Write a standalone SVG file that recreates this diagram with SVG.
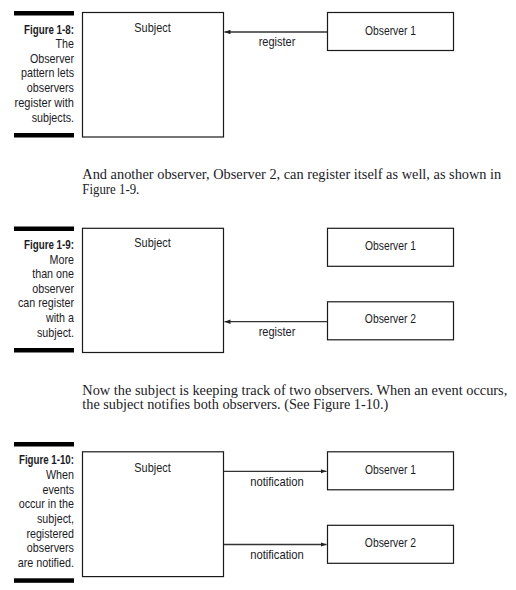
<svg xmlns="http://www.w3.org/2000/svg" width="516" height="590" viewBox="0 0 516 590">
<defs>
<style>
.bg{fill:#ffffff}
.bar{fill:#000000}
.box{fill:#ffffff;stroke:#1a1a1a;stroke-width:1.2}
.lbl{font-family:"Liberation Sans",Arial,sans-serif;font-size:13px;fill:#1b1b26;text-anchor:middle}
.cap{font-family:"Liberation Sans",Arial,sans-serif;font-size:13px;fill:#1b1b26;text-anchor:end}
.capb{font-weight:bold}
.para{font-family:"Liberation Serif","DejaVu Serif",serif;font-size:14px;fill:#1b1b26}
.conn{stroke:#333333;stroke-width:1.3;fill:none;marker-end:url(#ah)}
</style>
<marker id="ah" viewBox="0 0 8 6" refX="8" refY="3" markerWidth="6" markerHeight="4.5" markerUnits="userSpaceOnUse" orient="auto">
<path d="M0,0 L8,3 L0,6 z" fill="#222222"/>
</marker>
</defs>
<rect class="bg" x="0" y="0" width="516" height="590"/>

<!-- Figure 1-8 -->
<g id="fig1-8-caption">
<rect class="bar" x="14" y="11" width="60" height="4.5"/>
<rect class="bar" x="14" y="133" width="60" height="4.5"/>
<text class="cap capb" x="74" y="33.5" textLength="50" lengthAdjust="spacingAndGlyphs">Figure 1-8:</text>
<text class="cap" x="74" y="48" textLength="18.4" lengthAdjust="spacingAndGlyphs">The</text>
<text class="cap" x="74" y="62.7" textLength="44" lengthAdjust="spacingAndGlyphs">Observer</text>
<text class="cap" x="74" y="77.4" textLength="53" lengthAdjust="spacingAndGlyphs">pattern lets</text>
<text class="cap" x="74" y="92.1" textLength="47.2" lengthAdjust="spacingAndGlyphs">observers</text>
<text class="cap" x="74" y="106.8" textLength="59.5" lengthAdjust="spacingAndGlyphs">register with</text>
<text class="cap" x="74" y="121.5" textLength="42.3" lengthAdjust="spacingAndGlyphs">subjects.</text>
</g>
<g id="fig1-8-subject">
<rect class="box" x="82.5" y="12.5" width="141" height="124.5"/>
<text class="lbl" x="152.5" y="32" textLength="36.4" lengthAdjust="spacingAndGlyphs">Subject</text>
</g>
<g id="fig1-8-observer1">
<rect class="box" x="327.5" y="12.5" width="126" height="38"/>
<text class="lbl" x="390.5" y="34.5" textLength="51" lengthAdjust="spacingAndGlyphs">Observer 1</text>
</g>
<g id="fig1-8-connectors">
<line class="conn" x1="327" y1="32" x2="224.5" y2="32"/>
<text class="lbl" x="277" y="45.5" textLength="36.7" lengthAdjust="spacingAndGlyphs">register</text>
</g>

<text class="para" x="82.3" y="178.5" textLength="419" lengthAdjust="spacingAndGlyphs">And another observer, Observer 2, can register itself as well, as shown in</text>
<text class="para" x="82.3" y="193.5" textLength="57" lengthAdjust="spacingAndGlyphs">Figure 1-9.</text>

<!-- Figure 1-9 -->
<g id="fig1-9-caption">
<rect class="bar" x="14" y="226.5" width="60" height="4.5"/>
<rect class="bar" x="14" y="348" width="60" height="4.5"/>
<text class="cap capb" x="74" y="249" textLength="50" lengthAdjust="spacingAndGlyphs">Figure 1-9:</text>
<text class="cap" x="74" y="263.6" textLength="24.4" lengthAdjust="spacingAndGlyphs">More</text>
<text class="cap" x="74" y="278.2" textLength="41.8" lengthAdjust="spacingAndGlyphs">than one</text>
<text class="cap" x="74" y="292.8" textLength="41.8" lengthAdjust="spacingAndGlyphs">observer</text>
<text class="cap" x="74" y="307.4" textLength="56" lengthAdjust="spacingAndGlyphs">can register</text>
<text class="cap" x="74" y="322" textLength="28" lengthAdjust="spacingAndGlyphs">with a</text>
<text class="cap" x="74" y="336.6" textLength="37" lengthAdjust="spacingAndGlyphs">subject.</text>
</g>
<g id="fig1-9-subject">
<rect class="box" x="82.5" y="228.3" width="141" height="124.2"/>
<text class="lbl" x="152.5" y="247" textLength="36.4" lengthAdjust="spacingAndGlyphs">Subject</text>
</g>
<g id="fig1-9-observer1">
<rect class="box" x="327.5" y="228.3" width="126" height="38"/>
<text class="lbl" x="390.5" y="249.5" textLength="51" lengthAdjust="spacingAndGlyphs">Observer 1</text>
</g>
<g id="fig1-9-observer2">
<rect class="box" x="327.5" y="301.8" width="126" height="38"/>
<text class="lbl" x="390.5" y="323" textLength="51.3" lengthAdjust="spacingAndGlyphs">Observer 2</text>
</g>
<g id="fig1-9-connectors">
<line class="conn" x1="327" y1="321.7" x2="224.5" y2="321.7"/>
<text class="lbl" x="277" y="335.5" textLength="36.7" lengthAdjust="spacingAndGlyphs">register</text>
</g>

<text class="para" x="82.3" y="395" textLength="425" lengthAdjust="spacingAndGlyphs">Now the subject is keeping track of two observers. When an event occurs,</text>
<text class="para" x="82.3" y="409.3" textLength="306" lengthAdjust="spacingAndGlyphs">the subject notifies both observers. (See Figure 1-10.)</text>

<!-- Figure 1-10 -->
<g id="fig1-10-caption">
<rect class="bar" x="14" y="442" width="60" height="4.5"/>
<rect class="bar" x="14" y="578.3" width="60" height="4.5"/>
<text class="cap capb" x="74" y="464.3" textLength="55" lengthAdjust="spacingAndGlyphs">Figure 1-10:</text>
<text class="cap" x="74" y="479" textLength="28" lengthAdjust="spacingAndGlyphs">When</text>
<text class="cap" x="74" y="493.6" textLength="31.5" lengthAdjust="spacingAndGlyphs">events</text>
<text class="cap" x="74" y="508.2" textLength="55.3" lengthAdjust="spacingAndGlyphs">occur in the</text>
<text class="cap" x="74" y="522.8" textLength="37" lengthAdjust="spacingAndGlyphs">subject,</text>
<text class="cap" x="74" y="537.6" textLength="47.6" lengthAdjust="spacingAndGlyphs">registered</text>
<text class="cap" x="74" y="552.4" textLength="47.2" lengthAdjust="spacingAndGlyphs">observers</text>
<text class="cap" x="74" y="567" textLength="56.3" lengthAdjust="spacingAndGlyphs">are notified.</text>
</g>
<g id="fig1-10-subject">
<rect class="box" x="82.5" y="451.8" width="141" height="124.8"/>
<text class="lbl" x="152.5" y="471.5" textLength="36.4" lengthAdjust="spacingAndGlyphs">Subject</text>
</g>
<g id="fig1-10-observer1">
<rect class="box" x="327.5" y="451.8" width="126" height="38"/>
<text class="lbl" x="390.5" y="473.5" textLength="51" lengthAdjust="spacingAndGlyphs">Observer 1</text>
</g>
<g id="fig1-10-observer2">
<rect class="box" x="327.5" y="525.3" width="126" height="38"/>
<text class="lbl" x="390.5" y="546.5" textLength="51.3" lengthAdjust="spacingAndGlyphs">Observer 2</text>
</g>
<g id="fig1-10-connectors">
<line class="conn" x1="224" y1="471.3" x2="326.5" y2="471.3"/>
<text class="lbl" x="277" y="485.5" textLength="53.7" lengthAdjust="spacingAndGlyphs">notification</text>
<line class="conn" x1="224" y1="544.5" x2="326.5" y2="544.5"/>
<text class="lbl" x="277" y="558.5" textLength="53.7" lengthAdjust="spacingAndGlyphs">notification</text>
</g>
</svg>
